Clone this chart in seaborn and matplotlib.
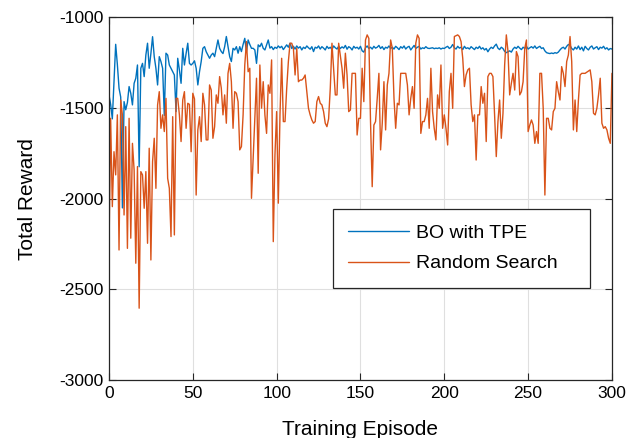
import matplotlib
matplotlib.use("Agg")
import matplotlib.pyplot as plt
import seaborn as sns
import pandas as pd
import numpy as np

# ---------------- data ----------------
tpe_episodes = [0, 1, 2, 4, 5, 6, 7, 8, 9, 10, 11, 12, 13, 14, 15, 16, 17, 18, 19, 20,
                21, 22, 23, 24, 25, 26, 27, 28, 29, 30, 31, 32, 33, 34, 35, 36, 37, 38, 39, 40,
                41, 42, 43, 44, 45, 46, 47, 48, 49, 50, 51, 52, 53, 54, 55, 56, 57, 58, 59, 60,
                61, 62, 63, 64, 65, 66, 67, 68, 69, 70, 71, 72, 73, 74, 75, 76, 77, 78, 79, 80,
                81, 82, 83, 84, 85, 86] + list(range(87, 301))
tpe_reward = [-1428, -1480, -1560, -1149, -1260, -1391, -1440, -2051, -1465, -1510,
              -1470, -1382, -1419, -1483, -1364, -1336, -1263, -1824, -1281, -1254,
              -1327, -1208, -1143, -1281, -1200, -1107, -1217, -1281, -1373, -1217,
              -1244, -1281, -1541, -1198, -1208, -1263, -1281, -1300, -1318, -1520,
              -1226, -1290, -1364, -1171, -1263, -1200, -1143, -1254, -1263, -1254,
              -1240, -1281, -1373, -1300, -1244, -1171, -1162, -1190, -1208, -1226,
              -1208, -1198, -1217, -1170, -1125, -1171, -1189, -1200, -1162, -1106,
              -1160, -1217, -1244, -1171, -1180, -1162, -1198, -1162, -1189, -1150,
              -1116, -1189, -1125, -1150, -1171, -1171,
              # 87 - 300
              -1180, -1254, -1152, -1162, -1143, -1171, -1180, -1152, -1125, -1170,
              -1162, -1178, -1165, -1171, -1158, -1168, -1160, -1178, -1165, -1152,
              -1165, -1143, -1172, -1160, -1175, -1158, -1170, -1162, -1180, -1165,
              -1172, -1158, -1168, -1176, -1162, -1189, -1165, -1170, -1158, -1175,
              -1162, -1170, -1180, -1160, -1172, -1165, -1178, -1158, -1168, -1175,
              -1160, -1172, -1163, -1170, -1155, -1176, -1162, -1168, -1180, -1160,
              -1170, -1165, -1175, -1160, -1185, -1192, -1168, -1158, -1172, -1165,
              -1175, -1160, -1170, -1165, -1155, -1172, -1162, -1178, -1165, -1170,
              -1158, -1172, -1165, -1175, -1160, -1168, -1178, -1162, -1170, -1158,
              -1175, -1165, -1160, -1180, -1168, -1155, -1172, -1165, -1160, -1175,
              -1168, -1172, -1162, -1170, -1172, -1170, -1168, -1173, -1170, -1172,
              -1168, -1175, -1170, -1172, -1165, -1160, -1172, -1165, -1150, -1168,
              -1175, -1160, -1170, -1165, -1178, -1160, -1172, -1168, -1175, -1162,
              -1170, -1178, -1165, -1172, -1160, -1175, -1168, -1180, -1172, -1190,
              -1175, -1165, -1172, -1158, -1148, -1170, -1178, -1165, -1172, -1188,
              -1195, -1190, -1185, -1192, -1175, -1165, -1172, -1160, -1170, -1178,
              -1165, -1172, -1160, -1175, -1168, -1162, -1170, -1158, -1172, -1165,
              -1160, -1172, -1168, -1185, -1195, -1198, -1200, -1197, -1200, -1195,
              -1198, -1192, -1180, -1170, -1165, -1175, -1160, -1150, -1155, -1172,
              -1180, -1165, -1175, -1158, -1178, -1165, -1185, -1160, -1172, -1180,
              -1165, -1158, -1175, -1168, -1162, -1178, -1165, -1170, -1160, -1175,
              -1168, -1180, -1172, -1175]

rs_episodes = list(range(0, 86)) + list(range(88, 134)) + [135, 136, 137] + \
    list(range(139, 146)) + list(range(147, 176)) + list(range(177, 207)) + \
    list(range(208, 283)) + [284] + list(range(287, 301))
rs_reward = [
    # 0 - 42
    -2300, -1557, -2044, -1741, -1869, -1538, -2283, -1456, -1538, -2090,
    -1603, -2274, -1557, -2218, -1695, -1842, -2356, -1823, -2604, -1851,
    -1869, -2053, -1851, -2246, -1722, -2338, -1796, -1667, -1943, -1483,
    -1410, -1612, -1538, -1630, -1447, -1888, -1943, -2209, -1548, -2200,
    -1447, -1447, -1538,
    # 43 - 85
    -1685, -1456, -1410, -1612, -1474, -1480, -1741, -1419, -1450, -1980,
    -1621, -1548, -1685, -1419, -1483, -1676, -1676, -1373, -1401, -1667,
    -1603, -1428, -1474, -1327, -1391, -1538, -1428, -1584, -1309, -1254,
    -1355, -1612, -1410, -1419, -1465, -1731, -1713, -1538, -1263, -1134,
    -1300, -1281, -1998,
    # 88 - 133
    -1336, -1860, -1263, -1501, -1355, -1538, -1640, -1373, -1419, -1235,
    -2237, -1759, -1520, -2025, -1538, -1226, -1575, -1575, -1392, -1244,
    -1143, -1143, -1171, -1318, -1171, -1355, -1346, -1346, -1336, -1318,
    -1410, -1502, -1538, -1566, -1584, -1575, -1465, -1437, -1474, -1483,
    -1520, -1584, -1603, -1560, -1391, -1143,
    # 135 - 137
    -1428, -1428, -1143,
    # 139 - 145
    -1281, -1391, -1198, -1318, -1520, -1511, -1309,
    # 147 - 175
    -1309, -1649, -1557, -1557, -1281, -1465, -1125, -1097, -1116, -1575,
    -1934, -1594, -1575, -1447, -1309, -1731, -1584, -1355, -1621, -1373,
    -1309, -1125, -1171, -1447, -1612, -1474, -1483, -1309, -1309,
    # 177 - 206
    -1309, -1373, -1538, -1447, -1382, -1502, -1143, -1097, -1116, -1640,
    -1575, -1575, -1538, -1447, -1612, -1281, -1520, -1612, -1676, -1428,
    -1502, -1263, -1612, -1538, -1612, -1704, -1410, -1309, -1502, -1106,
    # 208 - 282
    -1097, -1106, -1134, -1226, -1382, -1318, -1290, -1281, -1483, -1575,
    -1538, -1787, -1538, -1538, -1382, -1474, -1419, -1685, -1327, -1309,
    -1309, -1327, -1538, -1768, -1575, -1456, -1667, -1530, -1263, -1097,
    -1189, -1428, -1364, -1309, -1401, -1189, -1217, -1428, -1410, -1355,
    -1171, -1125, -1630, -1594, -1566, -1594, -1695, -1630, -1695, -1309,
    -1309, -1502, -1980, -1557, -1557, -1612, -1621, -1520, -1502, -1355,
    -1410, -1456, -1272, -1309, -1382, -1244, -1208, -1106, -1244, -1621,
    -1456, -1630, -1456, -1318, -1309,
    # 284
    -1309,
    # 287 - 300
    -1290, -1355, -1529, -1538, -1502, -1428, -1336, -1584, -1612, -1603,
    -1621, -1667, -1695, -1309]

series_names = ["BO with TPE", "Random Search"]
series_colors = ["#0072BD", "#D95319"]
x_ticks = [0, 50, 100, 150, 200, 250, 300]
y_ticks = [-3000, -2500, -2000, -1500, -1000]

df = pd.concat([
    pd.DataFrame({"Episode": tpe_episodes, "Reward": tpe_reward, "Method": series_names[0]}),
    pd.DataFrame({"Episode": rs_episodes, "Reward": rs_reward, "Method": series_names[1]}),
], ignore_index=True)

# ---------------- style ----------------
sns.set_theme(style="white")
plt.rcParams["font.family"] = ["Liberation Sans", "DejaVu Sans"]
plt.rcParams["axes.unicode_minus"] = False

fig = plt.figure(figsize=(6.27, 4.38), dpi=100)
ax = fig.add_axes([0.1738, 0.1324, 0.8022, 0.8281])

sns.lineplot(data=df, x="Episode", y="Reward", hue="Method",
             palette=dict(zip(series_names, series_colors)),
             estimator=None, sort=False, linewidth=1.0, ax=ax)

ax.set_xlim(0, 300)
ax.set_ylim(-3000, -1000)
ax.set_xticks(x_ticks)
ax.set_yticks(y_ticks)
ax.set_xticklabels([str(t) for t in x_ticks])
ax.set_yticklabels([str(t) for t in y_ticks])

ax.grid(True, color="#dfdfdf", linewidth=0.8)
ax.set_axisbelow(True)
for s in ax.spines.values():
    s.set_color("#262626")
    s.set_linewidth(0.9)
ax.tick_params(axis="both", which="both", direction="in", length=5, width=0.8,
               color="#262626", labelsize=12.5, labelcolor="black",
               top=True, right=True, bottom=True, left=True, pad=4)

ax.set_xlabel("Training Episode", fontsize=15, color="black", labelpad=14)
ax.set_ylabel("Total Reward", fontsize=15, color="black", labelpad=16)

leg = ax.legend(loc="lower left", bbox_to_anchor=(0.445, 0.2537, 0.511, 0.21),
                mode="expand", frameon=True,
                fancybox=False, framealpha=1, edgecolor="#262626",
                fontsize=14, handlelength=3.1, handletextpad=0.4,
                borderpad=0.8, labelspacing=0.65, borderaxespad=0)
leg.get_frame().set_linewidth(0.9)
for t in leg.get_texts():
    t.set_color("black")

fig.savefig("out.png", dpi=100)
